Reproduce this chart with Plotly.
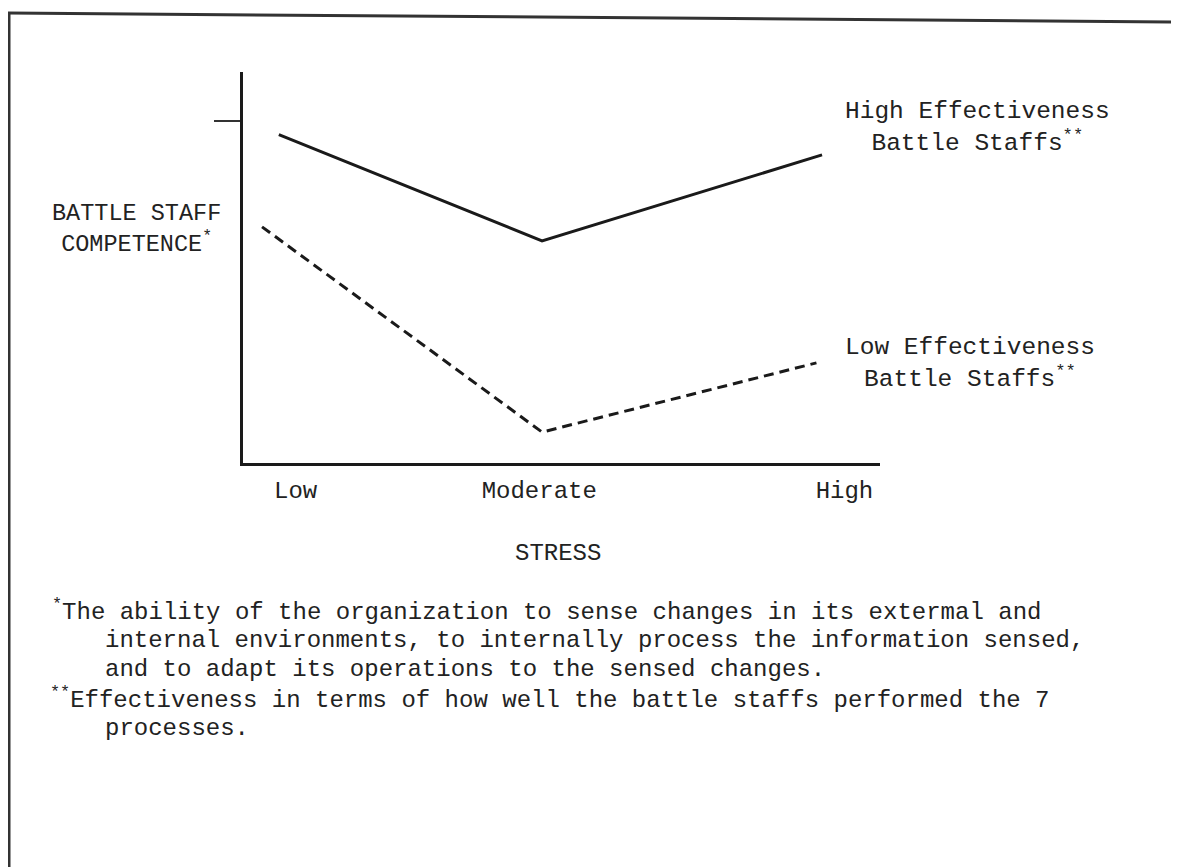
import plotly.graph_objects as go

# ---- data ----
stress_levels = ["Low", "Moderate", "High"]
high_x = [0.06, 1, 2]
high_eff = [8.4, 5.68, 7.88]
low_x = [0, 1, 1.98]
low_eff = [6.04, 0.79, 2.56]
tick_pos = [0.12, 0.99, 2.08]
y_mark = [8.75]

footnotes = [
    "<sup>*</sup>The ability of the organization to sense changes in its extermal and",
    "internal environments, to internally process the information sensed,",
    "and to adapt its operations to the sensed changes.",
    "<sup>**</sup>Effectiveness in terms of how well the battle staffs performed the 7",
    "processes.",
]

# page geometry (the page body has an 8px margin)
OFF = 8
PW, PH = 1179, 867
L, R, T, B = 243, 880, 72, 463   # plot area in page pixels


def px(x):
    return (x - L) / (R - L)


def py(y):
    return (B - y) / (B - T)


MONO = "Liberation Mono, Courier New, monospace"
INK = "#1a1a1a"
TXT = "#222"

fig = go.Figure()
fig.add_trace(go.Scatter(x=high_x, y=high_eff, mode="lines",
                         line=dict(color=INK, width=3), name="High Effectiveness Battle Staffs"))
fig.add_trace(go.Scatter(x=low_x, y=low_eff, mode="lines",
                         line=dict(color=INK, width=3, dash="10px,6px"),
                         name="Low Effectiveness Battle Staffs"))

fig.update_layout(
    width=PW - OFF, height=PH - OFF,
    margin=dict(l=L - OFF, r=PW - R, t=T - OFF, b=PH - B, pad=0),
    paper_bgcolor="white", plot_bgcolor="white",
    showlegend=False,
    xaxis=dict(range=[-0.068, 2.207], showgrid=False, zeroline=False,
               showline=True, linecolor=INK, linewidth=3,
               tickvals=tick_pos, ticktext=stress_levels, ticks="",
               ticklabelstandoff=3,
               tickfont=dict(family=MONO, size=24, color=TXT)),
    yaxis=dict(range=[0, 10], showgrid=False, zeroline=False,
               showline=True, linecolor=INK, linewidth=3,
               tickvals=y_mark, ticks="outside", ticklen=26, tickwidth=2,
               tickcolor="#333", showticklabels=False),
)

ann = []


def text(t, x, y, size=24, xanchor="left", align="left"):
    ann.append(dict(text=t, x=px(x), y=py(y), xref="paper", yref="paper",
                    xanchor=xanchor, yanchor="middle", showarrow=False, align=align,
                    font=dict(family=MONO, size=size, color=TXT)))


# y-axis title
text("BATTLE STAFF<br>COMPETENCE<sup>*</sup>", 136, 229, size=23.5,
     xanchor="center", align="center")
# series labels
text("High Effectiveness<br>Battle Staffs<sup>**</sup>", 978, 127, size=24.5,
     xanchor="center", align="center")
text("Low Effectiveness<br>Battle Staffs<sup>**</sup>", 970, 363, size=24.5,
     xanchor="center", align="center")
# x-axis title
text("STRESS", 558, 553, size=24, xanchor="center", align="center")

# footnotes
starts = [50, 103, 103, 48, 103]
ys = [610, 640, 669, 698, 728]
for txt, sx, sy in zip(footnotes, starts, ys):
    text(txt, sx, sy, size=24)

fig.update_layout(annotations=ann)

# scanned page frame
shapes = [
    dict(type="line", xref="paper", yref="paper", x0=px(8), y0=py(13), x1=px(1179), y1=py(22),
         line=dict(color="#333", width=3)),
    dict(type="line", xref="paper", yref="paper", x0=px(9), y0=py(13), x1=px(9), y1=py(867),
         line=dict(color="#333", width=3)),
]
fig.update_layout(shapes=shapes)

fig.write_html("out.html")
